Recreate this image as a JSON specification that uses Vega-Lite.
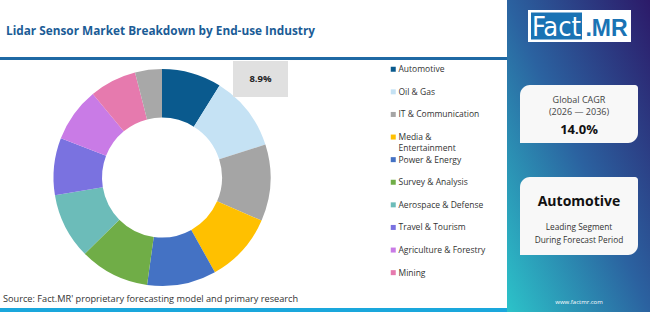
{
  "$schema": "https://vega.github.io/schema/vega-lite/v6.json",
  "background": "white",
  "padding": 0,
  "spacing": 0,
  "resolve": {
    "legend": {"color": "independent"},
    "scale": {"color": "independent", "x": "independent", "y": "independent"}
  },
  "config": {
    "view": {"stroke": null},
    "concat": {"spacing": 0},
    "font": "Open Sans"
  },
  "hconcat": [
    {
      "width": 507,
      "height": 312,
      "data": {"values": [{"title": "Lidar Sensor Market Breakdown by End-use Industry", "source": "Source: Fact.MR' proprietary forecasting model and primary research"}]},
      "encoding": {
        "x": {"type": "quantitative", "scale": {"domain": [0, 507], "nice": false, "zero": false}, "axis": null},
        "y": {"type": "quantitative", "scale": {"domain": [0, 312], "nice": false, "zero": false, "reverse": true}, "axis": null}
      },
      "layer": [
        {
          "mark": {"type": "text", "font": "Open Sans", "fontSize": 11.8, "fontWeight": "bold", "color": "#1b5c96", "align": "left", "baseline": "middle"},
          "encoding": {"x": {"datum": 6}, "y": {"datum": 31}, "text": {"field": "title"}}
        },
        {
          "mark": {"type": "text", "font": "Open Sans", "fontSize": 9.2, "color": "#333333", "align": "left", "baseline": "middle"},
          "encoding": {"x": {"datum": 3}, "y": {"datum": 298.5}, "text": {"field": "source"}}
        },
        {
          "data": {
            "values": [
              {"segment": "Automotive", "share": 0.089},
              {"segment": "Oil & Gas", "share": 0.112},
              {"segment": "IT & Communication", "share": 0.114},
              {"segment": "Media & Entertainment", "share": 0.104},
              {"segment": "Power & Energy", "share": 0.103},
              {"segment": "Survey & Analysis", "share": 0.104},
              {"segment": "Aerospace & Defense", "share": 0.098},
              {"segment": "Travel & Tourism", "share": 0.085},
              {"segment": "Agriculture & Forestry", "share": 0.081},
              {"segment": "Mining", "share": 0.07},
              {"segment": "Others", "share": 0.04}
            ]
          },
          "transform": [{"window": [{"op": "row_number", "as": "idx"}]}],
          "layer": [
            {
              "mark": {"type": "arc", "radius": 108.5, "radius2": 60},
              "encoding": {
                "x": {"datum": 162},
                "y": {"datum": 177.5},
                "theta": {"field": "share", "type": "quantitative", "stack": true},
                "order": {"field": "idx", "type": "quantitative"},
                "color": {
                  "field": "segment",
                  "type": "nominal",
                  "scale": {
                    "domain": ["Automotive", "Oil & Gas", "IT & Communication", "Media & Entertainment", "Power & Energy", "Survey & Analysis", "Aerospace & Defense", "Travel & Tourism", "Agriculture & Forestry", "Mining", "Others"],
                    "range": ["#0a5a8e", "#c5e2f4", "#a5a5a5", "#ffc000", "#4472c4", "#70ad47", "#6cbcb9", "#7a72e0", "#c97be6", "#e67aae", "#a8a8a8"]
                  },
                  "legend": {
                    "orient": "none",
                    "legendX": 383,
                    "legendY": 59,
                    "padding": 6,
                    "title": null,
                    "values": ["Automotive", "Oil & Gas", "IT & Communication", "Media & Entertainment", "Power & Energy", "Survey & Analysis", "Aerospace & Defense", "Travel & Tourism", "Agriculture & Forestry", "Mining"],
                    "labelExpr": "datum.label == 'Media & Entertainment' ? ['Media &', 'Entertainment'] : datum.label",
                    "symbolType": "square",
                    "symbolSize": 25,
                    "symbolStrokeWidth": 0,
                    "labelFont": "Open Sans",
                    "labelFontSize": 8.5,
                    "labelColor": "#333333",
                    "labelOffset": 1,
                    "gridAlign": "all",
                    "rowPadding": 2.6
                  }
                }
              }
            },
            {
              "mark": {"type": "rect", "fill": "#e0e0e0"},
              "encoding": {"x": {"datum": 233}, "x2": {"datum": 288}, "y": {"datum": 61}, "y2": {"datum": 97}}
            },
            {
              "transform": [{"filter": "datum.segment == 'Automotive'"}],
              "mark": {"type": "text", "fontWeight": "bold", "fontSize": 9.5, "color": "#222222", "baseline": "middle", "align": "center"},
              "encoding": {
                "x": {"datum": 260.5},
                "y": {"datum": 79},
                "text": {"field": "share", "type": "quantitative", "format": ".1%"}
              }
            }
          ]
        },
        {
          "mark": {"type": "rect", "fill": "#1f69a4"},
          "encoding": {"x": {"datum": 0}, "x2": {"datum": 507}, "y": {"datum": 57}, "y2": {"datum": 60}}
        },
        {
          "mark": {"type": "rect", "fill": "#1aa7dc"},
          "encoding": {"x": {"datum": 0}, "x2": {"datum": 507}, "y": {"datum": 308}, "y2": {"datum": 312}}
        }
      ]
    },
    {
      "width": 143,
      "height": 312,
      "data": {"values": [{"cagr": 0.14, "period": "(2026 — 2036)", "leader": "Automotive", "site": "www.factmr.com"}]},
      "encoding": {
        "x": {"type": "quantitative", "scale": {"domain": [0, 143], "nice": false, "zero": false}, "axis": null},
        "y": {"type": "quantitative", "scale": {"domain": [0, 312], "nice": false, "zero": false, "reverse": true}, "axis": null}
      },
      "layer": [
        {
          "mark": {
            "type": "rect",
            "fill": {
              "gradient": "linear",
              "x1": 0, "y1": 1, "x2": 1, "y2": 0,
              "stops": [
                {"offset": 0, "color": "#2cc3c9"},
                {"offset": 0.5, "color": "#2b62a0"},
                {"offset": 1, "color": "#2c1a69"}
              ]
            }
          },
          "encoding": {"x": {"datum": 0}, "x2": {"datum": 143}, "y": {"datum": 0}, "y2": {"datum": 312}}
        },
        {
          "mark": {"type": "rect", "fill": "white"},
          "encoding": {"x": {"datum": 21}, "x2": {"datum": 124}, "y": {"datum": 10}, "y2": {"datum": 42}}
        },
        {
          "mark": {"type": "rect", "fill": "#1a73b4"},
          "encoding": {"x": {"datum": 24}, "x2": {"datum": 75}, "y": {"datum": 12.5}, "y2": {"datum": 39.5}}
        },
        {
          "mark": {"type": "text", "text": "Fact", "font": "DejaVu Sans Condensed, Liberation Sans Narrow, Roboto", "fontSize": 27, "color": "white", "align": "center", "baseline": "alphabetic"},
          "encoding": {"x": {"datum": 49.5}, "y": {"datum": 36}}
        },
        {
          "mark": {"type": "text", "text": ".MR", "font": "Liberation Sans", "fontWeight": "bold", "fontSize": 23, "color": "#1a73b4", "align": "center", "baseline": "alphabetic"},
          "encoding": {"x": {"datum": 99.5}, "y": {"datum": 36}}
        },
        {
          "mark": {"type": "rect", "fill": "#f8f8f8", "cornerRadiusTopLeft": 10, "cornerRadiusBottomRight": 10, "cornerRadiusTopRight": 3},
          "encoding": {"x": {"datum": 13}, "x2": {"datum": 131}, "y": {"datum": 85}, "y2": {"datum": 143}}
        },
        {
          "mark": {"type": "rect", "fill": "#f8f8f8", "cornerRadiusTopLeft": 10, "cornerRadiusBottomRight": 10, "cornerRadiusTopRight": 3},
          "encoding": {"x": {"datum": 13}, "x2": {"datum": 131}, "y": {"datum": 177}, "y2": {"datum": 255}}
        },
        {
          "mark": {"type": "text", "text": "Global CAGR", "fontSize": 9, "color": "#444444", "align": "center", "baseline": "middle"},
          "encoding": {"x": {"datum": 72}, "y": {"datum": 100}}
        },
        {
          "mark": {"type": "text", "fontSize": 9, "color": "#444444", "align": "center", "baseline": "middle"},
          "encoding": {"x": {"datum": 72}, "y": {"datum": 111.5}, "text": {"field": "period"}}
        },
        {
          "mark": {"type": "text", "fontSize": 13, "fontWeight": "bold", "color": "#111111", "align": "center", "baseline": "middle"},
          "encoding": {"x": {"datum": 72}, "y": {"datum": 130}, "text": {"field": "cagr", "type": "quantitative", "format": ".1%"}}
        },
        {
          "mark": {"type": "text", "fontSize": 14, "fontWeight": "bold", "color": "#111111", "align": "center", "baseline": "middle"},
          "encoding": {"x": {"datum": 72}, "y": {"datum": 202}, "text": {"field": "leader"}}
        },
        {
          "mark": {"type": "text", "text": "Leading Segment", "fontSize": 8.3, "color": "#333333", "align": "center", "baseline": "middle"},
          "encoding": {"x": {"datum": 72}, "y": {"datum": 228}}
        },
        {
          "mark": {"type": "text", "text": "During Forecast Period", "fontSize": 8.3, "color": "#333333", "align": "center", "baseline": "middle"},
          "encoding": {"x": {"datum": 72}, "y": {"datum": 241}}
        },
        {
          "mark": {"type": "text", "fontSize": 6, "color": "white", "align": "center", "baseline": "middle"},
          "encoding": {"x": {"datum": 72}, "y": {"datum": 302}, "text": {"field": "site"}}
        }
      ]
    }
  ]
}
